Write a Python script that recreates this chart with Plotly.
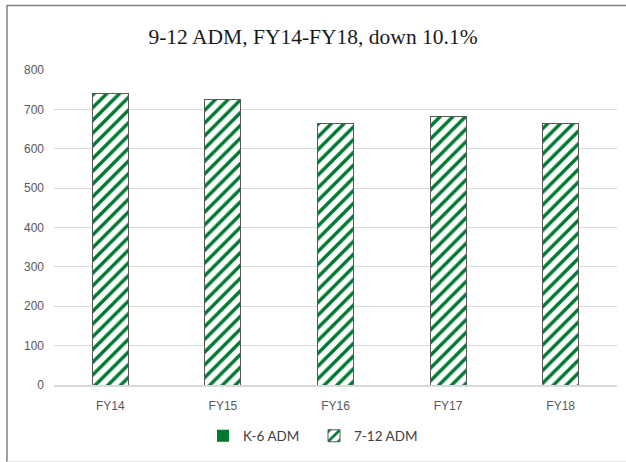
import plotly.graph_objects as go

categories = ["FY14", "FY15", "FY16", "FY17", "FY18"]
k6_adm = [0, 0, 0, 0, 0]
adm_7_12 = [740, 726, 664, 683, 665]
y_ticks = [0, 100, 200, 300, 400, 500, 600, 700, 800]

W, H = 626, 462
L, R, T, B = 54, 9, 70, 77
pw, ph = W - L - R, H - T - B

GREEN = "#00792F"

fig = go.Figure()
fig.add_trace(go.Bar(
    x=categories, y=k6_adm, name="K-6 ADM",
    marker=dict(color=GREEN, line=dict(width=0)),
))
fig.add_trace(go.Bar(
    x=categories, y=adm_7_12, name="7-12 ADM",
    marker=dict(
        color="white",
        line=dict(color="#595959", width=1),
        pattern=dict(shape="/", fgcolor=GREEN, bgcolor="white", size=9, solidity=0.38,
                     fillmode="replace", fgopacity=1),
    ),
))

def px(xp):
    return (xp - L) / pw

def py(yp):
    return (H - B - yp) / ph

shapes = [
    dict(type="line", xref="paper", yref="paper", x0=px(7), x1=px(640), y0=py(5.5), y1=py(5.5),
         line=dict(color="#7f7f7f", width=1.5)),
    dict(type="line", xref="paper", yref="paper", x0=px(7), x1=px(7), y0=py(5), y1=py(462),
         line=dict(color="#7f7f7f", width=1.5)),
    dict(type="line", xref="paper", yref="paper", x0=px(7), x1=px(640), y0=py(461.5), y1=py(461.5),
         line=dict(color="#e6e6e6", width=1)),
]

fig.update_layout(
    width=W, height=H,
    margin=dict(l=L, r=R, t=T, b=B),
    paper_bgcolor="white", plot_bgcolor="white",
    barmode="stack", bargap=0.68,
    title=dict(text="9-12 ADM, FY14-FY18, down 10.1%", x=0.5, xanchor="center",
               y=1 - 36 / H, yanchor="middle",
               font=dict(family="Liberation Serif, DejaVu Serif, serif", size=21.5, color="#1a1a1a")),
    font=dict(family="Liberation Sans, Arial, sans-serif", size=12, color="#595959"),
    xaxis=dict(showgrid=False, showline=True, linecolor="#d9d9d9", linewidth=1.5, ticks="",
               ticklabelstandoff=9, tickfont=dict(size=12, color="#595959")),
    yaxis=dict(range=[0, 800], tickvals=y_ticks, showgrid=True, gridcolor="#d9d9d9", gridwidth=1.3,
               zeroline=False, showline=False, ticks="", ticklabelstandoff=9,
               tickfont=dict(size=12, color="#595959")),
    legend=dict(orientation="h", x=px(203), xanchor="left", y=py(436), yanchor="middle",
                font=dict(family="Lato, Liberation Sans, sans-serif", size=13.5, color="#404040"),
                traceorder="normal", entrywidth=66, entrywidthmode="pixels", itemwidth=30),
    shapes=shapes,
    showlegend=True,
)

fig.write_html("out.html", config={"displayModeBar": False},
               post_script="document.body.style.margin='0';")
